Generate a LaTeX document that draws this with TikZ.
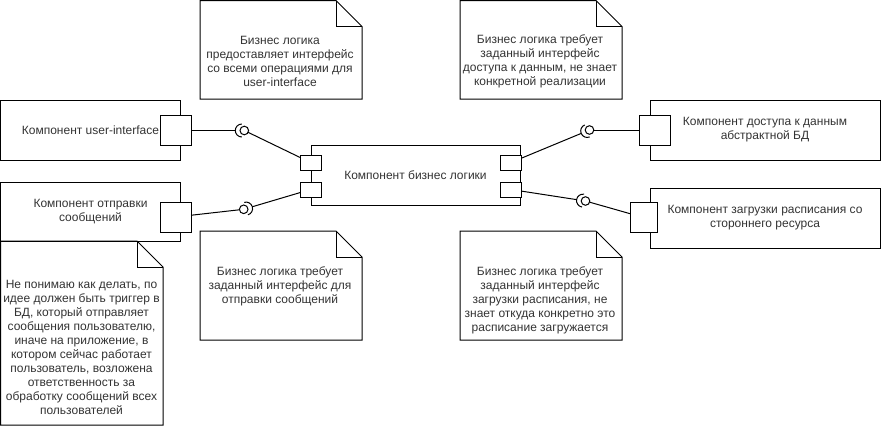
\documentclass[tikz,border=0pt]{standalone}
\usepackage{fontspec}
\setmainfont{Liberation Sans}
\usepackage{tikz}

\begin{document}
\begin{tikzpicture}[x=1pt, y=1pt, line width=1pt,
    every node/.style={font=\fontsize{12}{14}\selectfont, text=black!80},
    comp/.style={draw, rectangle, minimum width=180, minimum height=60, align=center, inner sep=0, outer sep=0},
    port/.style={draw, fill=white, rectangle, minimum width=31, minimum height=30, inner sep=0, outer sep=0},
    bport/.style={port, minimum width=21, minimum height=15},
    ball/.style={draw, circle, minimum size=8.6, inner sep=0, outer sep=0},
    notebox/.style={rectangle, minimum width=162, inner sep=0, outer sep=0},
    notetext/.style={align=center}]

    \def\notefold#1{
      \draw (#1.north west) -- ([xshift=-26]#1.north east) -- ([yshift=-26]#1.north east)
            -- (#1.south east) -- (#1.south west) -- cycle;
      \draw ([xshift=-26]#1.north east) |- ([yshift=-26]#1.north east);
    }

    \def\socket#1#2{
      \draw ([shift={(#2:2.5)}]#1.center) ++(#2-90:6.5) arc[start angle=#2-90, end angle=#2+90, radius=6.5];
      \coordinate (#1sock) at ([shift={(#2:9)}]#1.center);
    }

    \useasboundingbox (0,0) rectangle (881,-426);

    % components
    \node[comp] (ui)  at (90.5,-130)  {Компонент user-interface};
    \node[comp, minimum height=59] (msg) at (90.5,-211.5) {Компонент отправки\\сообщений};
    \node[comp, minimum width=209] (biz) at (415.5,-175) {Компонент бизнес логики};
    \node[comp, minimum width=230] (db)  at (765,-130)  {Компонент доступа к данным\\абстрактной БД};
    \node[comp, minimum width=230] (sched) at (765,-218) {Компонент загрузки расписания со\\стороннего ресурса};

    % ports
    \node[port] (uiport)  at (175.5,-130.5) {};
    \node[port] (msgport) at (175.5,-217) {};
    \node[port] (dbport)  at (655,-130) {};
    \node[port, minimum width=27] (schedport) at (643.5,-217.5) {};
    \foreach \side/\x in {l/310.5, r/511}
      \foreach \lev/\y in {t/-162.5, b/-189.5}
        \node[bport] (biz\side\lev) at (\x,\y) {};

    % interfaces
    \node[ball] (bui)    at (244.3,-130.5) {};
    \node[ball] (bmsg)   at (243.7,-209.3) {};
    \node[ball] (bdb)    at (589.5,-130) {};
    \node[ball] (bsched) at (585.5,-201) {};
    \socket{bui}{180}
    \socket{bmsg}{16.5}
    \socket{bdb}{202.3}
    \socket{bsched}{171.2}

    \draw (uiport) -- (buisock);
    \draw (bui) -- (bizlt);
    \draw (msgport) -- (bmsg);
    \draw (bmsgsock) -- (bizlb);
    \draw (bizrt) -- (bdbsock);
    \draw (bdb) -- (dbport);
    \draw (bizrb) -- (bschedsock);
    \draw (bsched) -- (schedport);

    % notes
    \node[notebox, minimum height=98.5] (n1) at (281,-49.75) {};
    \node[notebox, minimum height=98.5] (n2) at (541,-49.75) {};
    \node[notebox, minimum height=109] (n3) at (281,-285.5) {};
    \node[notebox, minimum height=109] (n4) at (541,-285.5) {};
    \node[notebox, minimum width=162.5, minimum height=184] (n5) at (81.75,-333) {};
    \foreach \n in {n1,n2,n3,n4,n5} \notefold{\n};

    \node[notetext] (n1t) at (280,-61.7) {Бизнес логика\\предоставляет интерфейс\\со всеми операциями для\\user-interface};
    \node[notetext] (n2t) at (540,-61.7) {Бизнес логика требует\\заданный интерфейс\\доступа к данным, не знает\\конкретной реализации};
    \node[notetext] (n3t) at (280,-286) {Бизнес логика требует\\заданный интерфейс для\\отправки сообщений};
    \node[notetext] (n4t) at (540,-300.3) {Бизнес логика требует\\заданный интерфейс\\загрузки расписания, не\\знает откуда конкретно это\\расписание загружается};
    \node[notetext] (n5t) at (81.5,-347.5) {Не понимаю как делать, по\\идее должен быть триггер в\\БД, который отправляет\\сообщения пользователю,\\иначе на приложение, в\\котором сейчас работает\\пользователь, возложена\\ответственность за\\обработку сообщений всех\\пользователей};

\end{tikzpicture}
\end{document}
